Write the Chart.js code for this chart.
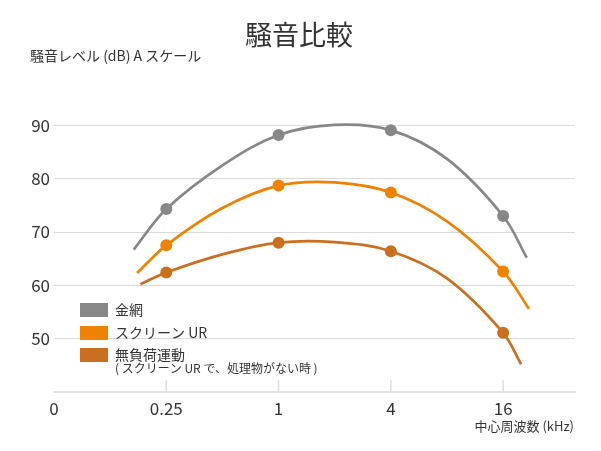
<!DOCTYPE html>
<html>
<head>
<meta charset="utf-8">
<script src="https://cdn.jsdelivr.net/npm/chart.js@4"></script>
<style>
  html, body { margin: 0; padding: 0; background: #fff; }
  #wrap { width: 601px; height: 451px; }
</style>
</head>
<body>
<div id="wrap"><canvas id="noiseChart" width="601" height="451"></canvas></div>
<script>
// tick labels of the frequency axis (evenly spaced, index 0..4)
const xLabels = ["0", "0.25", "1", "4", "16"];
const yTicks = [40, 50, 60, 70, 80, 90];

// measured points at 0.25, 1, 4, 16 kHz
const pointX = [1, 2, 3, 4];
const kanaami = [74.3, 88.2, 89.1, 73.0];
const screenUR = [67.5, 78.7, 77.4, 62.6];
const muhuka = [62.4, 68.0, 66.4, 51.1];

// extra points (ends and half steps)
const kanaamiCurveX = [0.71, 1.5, 2.5, 3.5, 4.21];
const kanaamiCurveY = [66.7, 82.5, 90.1, 83.7, 65.2];
const screenCurveX = [0.74, 1.5, 2.5, 3.5, 4.23];
const screenCurveY = [62.3, 74.5, 79.3, 72.0, 55.6];
const muhukaCurveX = [0.77, 1.5, 2.5, 3.5, 4.16];
const muhukaCurveY = [60.2, 65.8, 68.1, 61.3, 45.2];

const names = ["金網", "スクリーン UR", "無負荷運動"];
const subNote = "( スクリーン UR で、処理物がない時 )";
const colors = ["#878787", "#ef8200", "#cc6e1f"];

const FONT = "'Noto Sans CJK JP', 'Noto Sans', sans-serif";

function curve(xs, ys, px, py) {
    const pts = xs.map((x, i) => ({ x: x, y: ys[i] }));
    px.forEach((x, i) => pts.push({ x: x, y: py[i] }));
    return pts.sort((a, b) => a.x - b.x);
}
function markers(px, py) {
    return px.map((x, i) => ({ x: x, y: py[i] }));
}

const series = [
    [kanaamiCurveX, kanaamiCurveY, kanaami],
    [screenCurveX, screenCurveY, screenUR],
    [muhukaCurveX, muhukaCurveY, muhuka]
];

const datasets = [];
series.forEach((s, i) => {
    datasets.push({
        label: names[i],
        data: curve(s[0], s[1], pointX, s[2]),
        borderColor: colors[i],
        borderWidth: 2.7,
        pointRadius: 0,
        tension: 0.35,
        fill: false
    });
    datasets.push({
        label: names[i] + "_pt",
        data: markers(pointX, s[2]),
        showLine: false,
        pointRadius: 6,
        pointBackgroundColor: colors[i],
        pointBorderWidth: 0
    });
});

const extras = {
    id: "extras",
    afterDraw(chart) {
        const ctx = chart.ctx;
        const area = chart.chartArea;
        const xs = chart.scales.x;
        ctx.save();
        // small tick marks above the axis line
        ctx.strokeStyle = "#dedede";
        ctx.lineWidth = 1.5;
        pointX.forEach(v => {
            const x = xs.getPixelForValue(v);
            ctx.beginPath();
            ctx.moveTo(x, area.bottom - 12);
            ctx.lineTo(x, area.bottom);
            ctx.stroke();
        });
        // titles
        ctx.fillStyle = "#333";
        ctx.textBaseline = "middle";
        ctx.textAlign = "center";
        ctx.font = "27px " + FONT;
        ctx.fillText("騒音比較", 299, 35);
        ctx.textAlign = "left";
        ctx.font = "14px " + FONT;
        ctx.fillText("騒音レベル (dB) A スケール", 30, 56);
        ctx.textAlign = "right";
        ctx.font = "13px " + FONT;
        ctx.fillText("中心周波数 (kHz)", 574, 426);
        // legend
        const rows = [310, 333, 355];
        ctx.textAlign = "left";
        names.forEach((n, i) => {
            ctx.fillStyle = colors[i];
            ctx.fillRect(80, rows[i] - 7, 28, 14);
            ctx.fillStyle = "#333";
            ctx.font = "14px " + FONT;
            ctx.fillText(n, 115, rows[i]);
        });
        ctx.font = "12px " + FONT;
        ctx.fillText(subNote, 115, 368);
        ctx.restore();
    }
};

new Chart(document.getElementById("noiseChart"), {
    type: "line",
    data: { datasets: datasets },
    plugins: [extras],
    options: {
        responsive: false,
        animation: false,
        devicePixelRatio: 1,
        layout: { padding: { top: 72, right: 26, left: 0, bottom: 0 } },
        plugins: {
            legend: { display: false },
            title: { display: false },
            tooltip: { enabled: false }
        },
        scales: {
            x: {
                type: "linear",
                min: 0,
                max: 4.64,
                afterBuildTicks: s => { s.ticks = xLabels.map((l, i) => ({ value: i })); },
                afterFit: s => { s.height = 59; },
                grid: { color: "rgba(0,0,0,0)", drawTicks: false },
                border: { display: true, color: "#e2e2e2", width: 2 },
                ticks: {
                    padding: 6,
                    color: "#333",
                    font: { family: FONT, size: 17 },
                    callback: v => xLabels[v]
                }
            },
            y: {
                min: 40,
                max: 100,
                afterBuildTicks: s => { s.ticks = yTicks.map(v => ({ value: v })); },
                afterFit: s => { s.width = 54; },
                grid: {
                    drawTicks: false,
                    color: c => (c.tick && c.tick.value === 40) ? "rgba(0,0,0,0)" : "#dadada"
                },
                border: { display: false },
                ticks: {
                    padding: 4,
                    color: "#333",
                    font: { family: FONT, size: 17 },
                    callback: v => (v === 40 ? "" : String(v))
                }
            }
        }
    }
});
</script>
</body>
</html>
